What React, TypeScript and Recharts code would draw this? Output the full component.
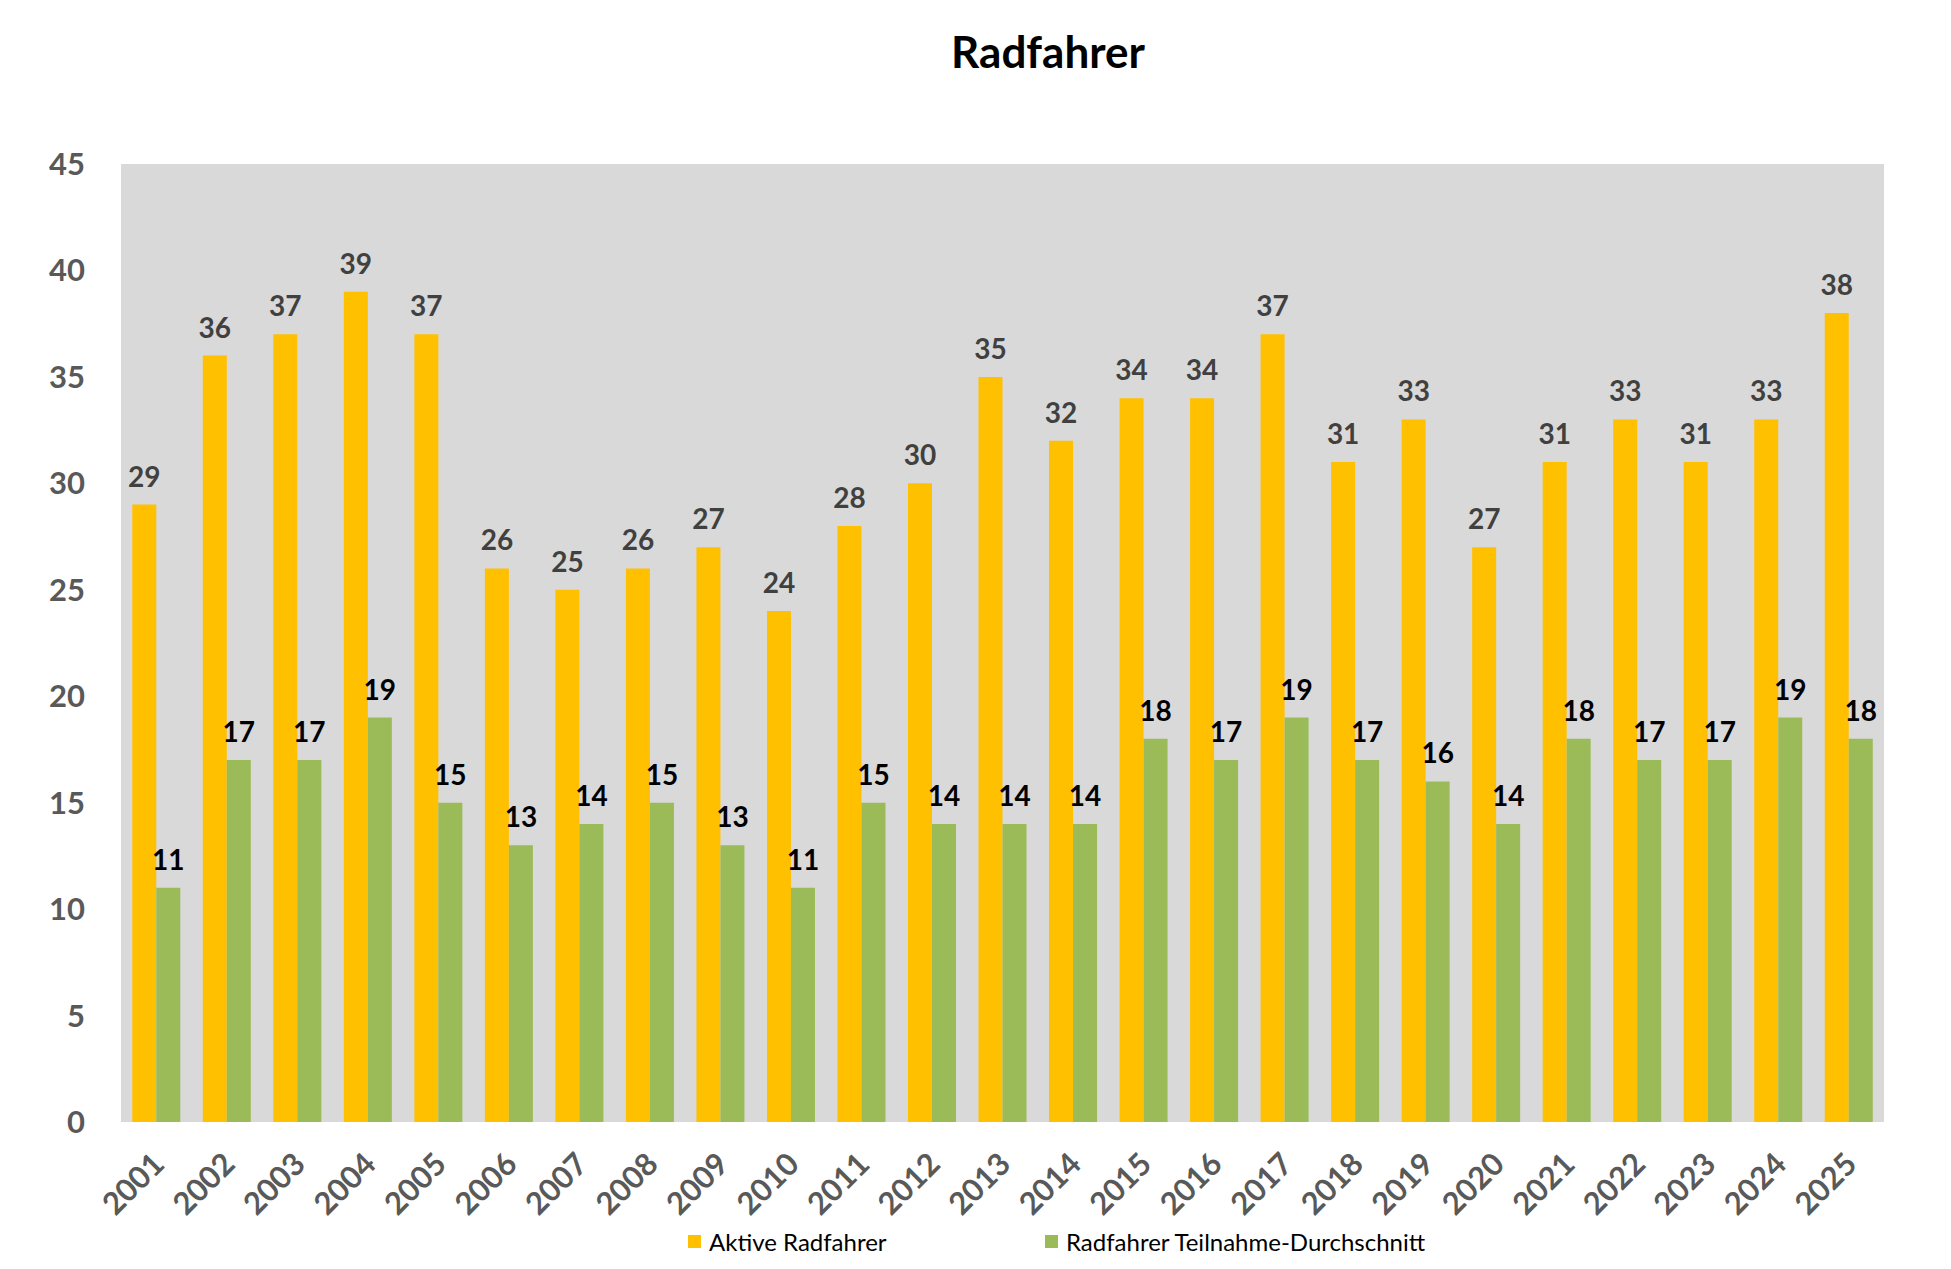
import React from "react";
import {
  BarChart,
  Bar,
  XAxis,
  YAxis,
  CartesianGrid,
  Legend,
  LabelList,
} from "recharts";

const YEARS = [
  "2001", "2002", "2003", "2004", "2005", "2006", "2007", "2008", "2009",
  "2010", "2011", "2012", "2013", "2014", "2015", "2016", "2017", "2018",
  "2019", "2020", "2021", "2022", "2023", "2024", "2025",
];
const AKTIVE = [
  29, 36, 37, 39, 37, 26, 25, 26, 27, 24, 28, 30, 35, 32, 34, 34, 37, 31, 33,
  27, 31, 33, 31, 33, 38,
];
const DURCHSCHNITT = [
  11, 17, 17, 19, 15, 13, 14, 15, 13, 11, 15, 14, 14, 14, 18, 17, 19, 17, 16,
  14, 18, 17, 17, 19, 18,
];
const Y_TICKS = [0, 5, 10, 15, 20, 25, 30, 35, 40, 45];

const YELLOW = "#FFC000";
const GREEN = "#9BBB59";
const FONT = "Lato, 'Open Sans', sans-serif";

const data = YEARS.map((year, i) => ({
  year,
  aktive: AKTIVE[i],
  schnitt: DURCHSCHNITT[i],
}));

function YearTick({ x, y, payload }: { x?: number; y?: number; payload?: { value: string } }) {
  const ax = (x ?? 0) + 10;
  const ay = (y ?? 0) + 42;
  return (
    <text
      x={ax}
      y={ay}
      transform={`rotate(-45, ${ax}, ${ay})`}
      textAnchor="end"
      fill="#595959"
      fontFamily={FONT}
      fontWeight="bold"
      fontSize={31}
    >
      {payload?.value}
    </text>
  );
}

function ChartLegend() {
  const item = (left: number, color: string, label: string) => (
    <div
      style={{
        position: "absolute",
        left,
        top: 0,
        display: "flex",
        alignItems: "center",
        whiteSpace: "nowrap",
      }}
    >
      <span
        style={{
          display: "inline-block",
          width: 13,
          height: 13,
          background: color,
          marginRight: 8,
        }}
      />
      <span style={{ fontFamily: FONT, fontSize: 24, color: "#000" }}>{label}</span>
    </div>
  );
  return (
    <div style={{ position: "relative", height: 30 }}>
      {item(688, YELLOW, "Aktive Radfahrer")}
      {item(1045, GREEN, "Radfahrer Teilnahme-Durchschnitt")}
    </div>
  );
}

export default function App() {
  return (
    <div style={{ position: "absolute", left: 0, top: 0, width: 1951, height: 1269, background: "#fff" }}>
      <div
        style={{
          position: "absolute",
          top: 29,
          left: 0,
          width: 2096,
          textAlign: "center",
          fontFamily: FONT,
          fontWeight: "bold",
          fontSize: 44,
          lineHeight: "44px",
          color: "#000",
        }}
      >
        Radfahrer
      </div>
      <BarChart
        width={1951}
        height={1269}
        data={data}
        margin={{ top: 164, right: 67, left: 0, bottom: 46 }}
        barCategoryGap="16%"
        barGap={0}
      >
        <CartesianGrid fill="#D9D9D9" horizontal={false} vertical={false} stroke="none" />
        <XAxis
          dataKey="year"
          interval={0}
          height={71}
          axisLine={false}
          tickLine={false}
          tickSize={0}
          tick={<YearTick />}
        />
        <YAxis
          width={121}
          domain={[0, 45]}
          ticks={Y_TICKS}
          axisLine={false}
          tickLine={false}
          tickSize={0}
          tickMargin={36}
          tick={{ fill: "#595959", fontFamily: FONT, fontWeight: "bold", fontSize: 31 }}
        />
        <Legend
          content={<ChartLegend />}
          wrapperStyle={{ position: "absolute", left: 0, top: 1227, width: 1951 }}
        />
        <Bar dataKey="aktive" name="Aktive Radfahrer" fill={YELLOW} isAnimationActive={false}>
          <LabelList
            dataKey="aktive"
            position="top"
            offset={18}
            fill="#404040"
            fontFamily={FONT}
            fontWeight="bold"
            fontSize={28}
          />
        </Bar>
        <Bar dataKey="schnitt" name="Radfahrer Teilnahme-Durchschnitt" fill={GREEN} isAnimationActive={false}>
          <LabelList
            dataKey="schnitt"
            position="top"
            offset={18}
            fill="#000000"
            fontFamily={FONT}
            fontWeight="bold"
            fontSize={28}
          />
        </Bar>
      </BarChart>
    </div>
  );
}
